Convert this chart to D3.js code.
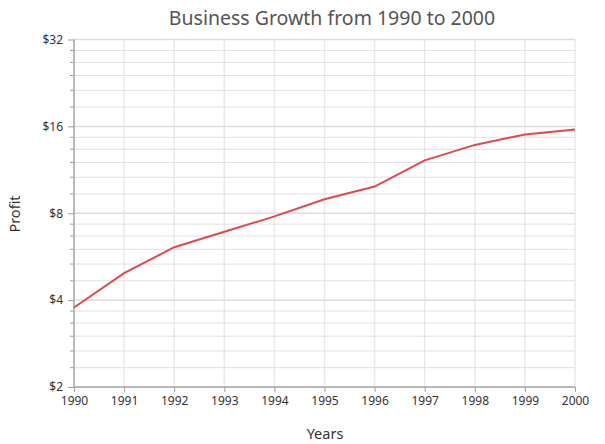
<!DOCTYPE html>
<html><head><meta charset="utf-8">
<script src="https://cdn.jsdelivr.net/npm/d3@7"></script>
<style>
body{margin:0;background:#fff;}
text{font-family:"Noto Sans","Open Sans",sans-serif;}
</style></head>
<body><svg id="c" width="605" height="444"></svg>
<script>
const years = [1990,1991,1992,1993,1994,1995,1996,1997,1998,1999,2000];
const profit = [3.77,4.96,6.1,6.9,7.8,8.95,9.9,12.2,13.8,15.0,15.6];
const yTicks = [2,4,8,16,32];
const yTickLabels = ["$2","$4","$8","$16","$32"];
const minorPerInterval = 5;

const svg = d3.select("#c");
const m = {l:74, r:575, t:39.5, b:387};
const x = d3.scaleLinear().domain([1990,2000]).range([m.l,m.r]);
const y = d3.scaleLog().base(2).domain([2,32]).range([m.b,m.t]);

const minors = [];
for (let i=0;i<yTicks.length-1;i++){
  const a=yTicks[i], b=yTicks[i+1];
  for (let k=1;k<=minorPerInterval;k++) minors.push(a+(b-a)*k/(minorPerInterval+1));
}

svg.append("g").selectAll("line").data(years).join("line")
  .attr("x1",d=>x(d)).attr("x2",d=>x(d)).attr("y1",m.t).attr("y2",m.b)
  .attr("stroke","#eaeaea").attr("stroke-width",1.5);
svg.append("g").selectAll("line").data(minors).join("line")
  .attr("x1",m.l).attr("x2",m.r).attr("y1",d=>y(d)).attr("y2",d=>y(d))
  .attr("stroke","#e0e0e0").attr("stroke-width",1);
svg.append("g").selectAll("line").data(yTicks).join("line")
  .attr("x1",m.l).attr("x2",m.r).attr("y1",d=>y(d)).attr("y2",d=>y(d))
  .attr("stroke","#dddddd").attr("stroke-width",1.5);

const yAxis = svg.append("g").attr("transform",`translate(${m.l},0)`)
  .call(d3.axisLeft(y).tickValues(yTicks).tickFormat((d,i)=>yTickLabels[i]).tickSize(6).tickPadding(5));
yAxis.select(".domain").remove();
yAxis.selectAll(".tick line").attr("stroke","#9e9e9e");
yAxis.selectAll(".tick text").attr("fill","#333").style("font-size","12px");
svg.append("g").selectAll("line").data(minors).join("line")
  .attr("x1",m.l-4).attr("x2",m.l).attr("y1",d=>y(d)).attr("y2",d=>y(d))
  .attr("stroke","#9e9e9e");
svg.append("line").attr("x1",m.l).attr("x2",m.l).attr("y1",m.t).attr("y2",m.b)
  .attr("stroke","#a8a8a8").attr("stroke-width",1.5);

const xAxis = svg.append("g").attr("transform",`translate(0,${m.b})`)
  .call(d3.axisBottom(x).tickValues(years).tickFormat(d3.format("d")).tickSize(5).tickPadding(4));
xAxis.select(".domain").remove();
xAxis.selectAll(".tick line").attr("stroke","#9e9e9e");
xAxis.selectAll(".tick text").attr("fill","#333").style("font-size","12px");
svg.append("line").attr("x1",m.l).attr("x2",m.r).attr("y1",m.b).attr("y2",m.b)
  .attr("stroke","#a8a8a8").attr("stroke-width",1.5);

const line = d3.line().x((d,i)=>x(years[i])).y(d=>y(d));
svg.append("path").datum(profit).attr("d",line)
  .attr("fill","none").attr("stroke","#e5474f").attr("stroke-width",2);

svg.append("text").attr("x",332).attr("y",25).attr("text-anchor","middle")
  .attr("fill","#555").style("font-size","19.5px").text("Business Growth from 1990 to 2000");
svg.append("text").attr("x",325).attr("y",439).attr("text-anchor","middle")
  .attr("fill","#333").style("font-size","14.5px").text("Years");
svg.append("text").attr("transform","translate(20,214) rotate(-90)").attr("text-anchor","middle")
  .attr("fill","#333").style("font-size","14.5px").text("Profit");
</script></body></html>
